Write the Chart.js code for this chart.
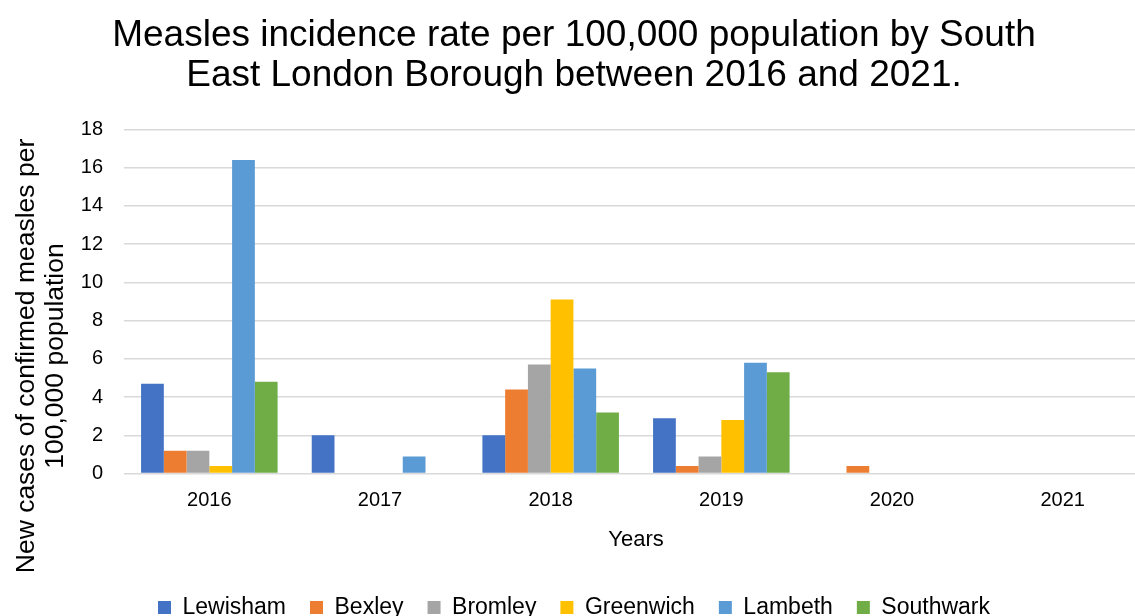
<!DOCTYPE html>
<html>
<head>
<meta charset="utf-8">
<script src="https://cdn.jsdelivr.net/npm/chart.js@4/dist/chart.umd.min.js"></script>
<style>
  html, body { margin: 0; padding: 0; background: #fff; overflow: hidden; }
  #wrap { width: 1135px; height: 616px; overflow: hidden; }
  #box { width: 1148px; height: 629px; }
</style>
</head>
<body>
<div id="wrap"><div id="box"><canvas id="chart"></canvas></div></div>
<script>
// data
const years = ['2016', '2017', '2018', '2019', '2020', '2021'];
const lewisham  = [4.7, 2.0, 2.0, 2.9, 0, 0];
const bexley    = [1.2, 0, 4.4, 0.4, 0.4, 0];
const bromley   = [1.2, 0, 5.7, 0.9, 0, 0];
const greenwich = [0.4, 0, 9.1, 2.8, 0, 0];
const lambeth   = [16.4, 0.9, 5.5, 5.8, 0, 0];
const southwark = [4.8, 0, 3.2, 5.3, 0, 0];

const fontFam = '"Liberation Sans", Arial, sans-serif';

// y title drawn by hand so it can sit lower than the axis centre, like the original
const yTitle = {
  id: 'yTitle',
  afterDraw(chart) {
    const c = chart.ctx;
    c.save();
    c.font = '26.5px ' + fontFam;
    c.fillStyle = '#000';
    c.textAlign = 'center';
    c.textBaseline = 'middle';
    c.translate(27, 356);
    c.rotate(-Math.PI / 2);
    c.fillText('New cases of confirmed measles per', 0, 0);
    c.fillText('100,000 population', 0, 29);
    c.restore();
  }
};

function ds(label, values, color) {
  return {
    label: label,
    data: values,
    backgroundColor: color,
    borderWidth: 0,
    categoryPercentage: 0.8,
    barPercentage: 1.0
  };
}

new Chart(document.getElementById('chart').getContext('2d'), {
  type: 'bar',
  data: {
    labels: years,
    datasets: [
      ds('Lewisham', lewisham, '#4472c4'),
      ds('Bexley', bexley, '#ed7d31'),
      ds('Bromley', bromley, '#a5a5a5'),
      ds('Greenwich', greenwich, '#ffc000'),
      ds('Lambeth', lambeth, '#5b9bd5'),
      ds('Southwark', southwark, '#70ad47')
    ]
  },
  options: {
    responsive: true,
    maintainAspectRatio: false,
    animation: false,
    layout: { padding: { left: 0, right: 0, top: 15, bottom: 0 } },
    plugins: {
      title: {
        display: true,
        text: ['Measles incidence rate per 100,000 population by South', 'East London Borough between 2016 and 2021.'],
        color: '#000',
        font: { family: fontFam, size: 37, weight: 'normal', lineHeight: 1.1 },
        padding: { top: 0, bottom: 33 }
      },
      legend: {
        position: 'bottom',
        labels: {
          color: '#000',
          font: { family: fontFam, size: 23 },
          boxWidth: 13,
          boxHeight: 13,
          padding: 24
        }
      },
      tooltip: { enabled: false }
    },
    scales: {
      x: {
        grid: { display: false },
        border: { display: false },
        ticks: { color: '#000', font: { family: fontFam, size: 20 }, padding: 7 },
        title: {
          display: true,
          text: 'Years',
          color: '#000',
          font: { family: fontFam, size: 22 },
          padding: { top: 7, bottom: 19 }
        }
      },
      y: {
        min: 0,
        max: 18,
        afterFit(scale) { scale.width = 124; },
        ticks: { stepSize: 2, color: '#000', font: { family: fontFam, size: 20 }, padding: 21 },
        grid: { color: '#d9d9d9', lineWidth: 1.5, drawTicks: false },
        border: { display: false }
      }
    }
  },
  plugins: [yTitle]
});
</script>
</body>
</html>
